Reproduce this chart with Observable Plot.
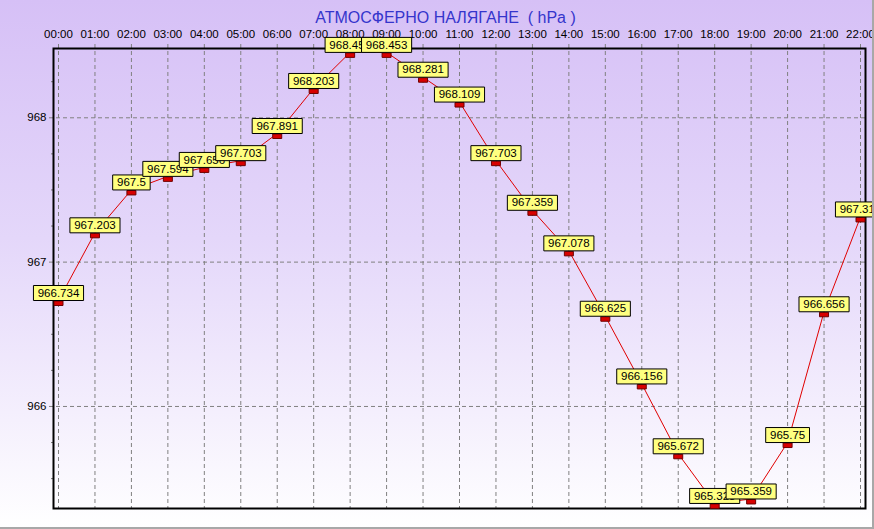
<!DOCTYPE html>
<html>
<head>
<meta charset="utf-8">
<script src="https://cdn.jsdelivr.net/npm/d3@7"></script>
<script src="https://cdn.jsdelivr.net/npm/@observablehq/plot@0.6"></script>
<style>
  html, body { margin: 0; padding: 0; }
  body { width: 874px; height: 529px; overflow: hidden; }
  .wrap {
    position: relative; width: 874px; height: 529px;
    background: linear-gradient(to bottom, #d6c0f6 0%, #e4d7fa 45%, #ffffff 100%);
    font-family: "Liberation Sans", Arial, sans-serif;
  }
  .wrap::after {
    content: ""; position: absolute; left: 0; top: 0; right: 0; bottom: 0;
    border-right: 2px solid #a8a8a8; border-bottom: 2px solid #a8a8a8;
    pointer-events: none;
  }
  .wrap svg { display: block; }
</style>
</head>
<body>
<div class="wrap" id="chart"></div>
<script>
const title = "АТМОСФЕРНО НАЛЯГАНЕ  ( hPa )";
const hours = ["00:00","01:00","02:00","03:00","04:00","05:00","06:00","07:00","08:00","09:00","10:00","11:00",
               "12:00","13:00","14:00","15:00","16:00","17:00","18:00","19:00","20:00","21:00","22:00"];
const pressure = [966.734, 967.203, 967.5, 967.594, 967.656, 967.703, 967.891, 968.203, 968.453, 968.453,
                  968.281, 968.109, 967.703, 967.359, 967.078, 966.625, 966.156, 965.672, 965.328, 965.359,
                  965.75, 966.656, 967.313];
const yTicks = [966, 967, 968];
const yMinorTicks = [965.5, 965.75, 966.25, 966.5, 966.75, 967.25, 967.5, 967.75, 968.25];

const data = hours.map((h, i) => ({hour: h, value: pressure[i], label: String(pressure[i])}));

// label box symbol: bottom edge at the point, height 15, half-width from r
const boxSymbol = {
  draw(ctx, size) {
    const hw = Math.sqrt(size / Math.PI);
    ctx.moveTo(-hw, -15); ctx.lineTo(hw, -15); ctx.lineTo(hw, 0); ctx.lineTo(-hw, 0); ctx.closePath();
  }
};
// small red marker just below the point
const markerSymbol = {
  draw(ctx, size) {
    ctx.moveTo(-4.5, 0.5); ctx.lineTo(4.5, 0.5); ctx.lineTo(4.5, 5); ctx.lineTo(-4.5, 5); ctx.closePath();
  }
};

const marks = [
  Plot.ruleX(hours, {x: d => d, stroke: "#808080", strokeDasharray: "4,3", strokeWidth: 1, insetTop: -4}),
  Plot.ruleY(yTicks, {y: d => d, stroke: "#808080", strokeDasharray: "4,3", strokeWidth: 1, insetLeft: -4}),
  Plot.axisX({anchor: "top", tickSize: 0, tickPadding: 11, fontSize: 11.5, fill: "#000"}),
  Plot.axisY(yTicks, {anchor: "left", tickSize: 0, tickPadding: 7, fontSize: 11.5, fill: "#000", tickFormat: d => String(d)}),
  Plot.axisY(yMinorTicks, {anchor: "left", tickSize: 2, tickFormat: () => "", stroke: "#777"}),
  Plot.frame({stroke: "#000", strokeWidth: 2}),
  Plot.line(data, {x: "hour", y: "value", stroke: "#e00000", strokeWidth: 1}),
  Plot.text([title], {text: d => d, frameAnchor: "top", dx: -14, dy: -37, fontSize: 16, fill: "#3535cc"})
];

data.forEach(d => {
  const hw = (6.3 * d.label.length + 6) / 2;
  marks.push(Plot.dot([d], {x: "hour", y: "value", r: 3, symbol: markerSymbol, fill: "#d80000", stroke: "#700000", strokeWidth: 1}));
  marks.push(Plot.dot([d], {x: "hour", y: "value", r: hw, symbol: boxSymbol, fill: "#ffff80", stroke: "#000", strokeWidth: 1}));
  marks.push(Plot.text([d], {x: "hour", y: "value", text: "label", dy: -7.5, fontSize: 11.5, fill: "#000"}));
});

const chart = Plot.plot({
  width: 874,
  height: 529,
  marginLeft: 53,
  marginRight: 9,
  marginTop: 48,
  marginBottom: 21,
  style: {background: "transparent", fontFamily: "'Liberation Sans', Arial, sans-serif", fontSize: "11px", overflow: "hidden"},
  x: {type: "point", domain: hours, padding: 0, round: false, range: [58, 860], label: null},
  y: {domain: [965.293, 968.48], label: null},
  marks
});
document.getElementById("chart").appendChild(chart);
</script>
</body>
</html>
